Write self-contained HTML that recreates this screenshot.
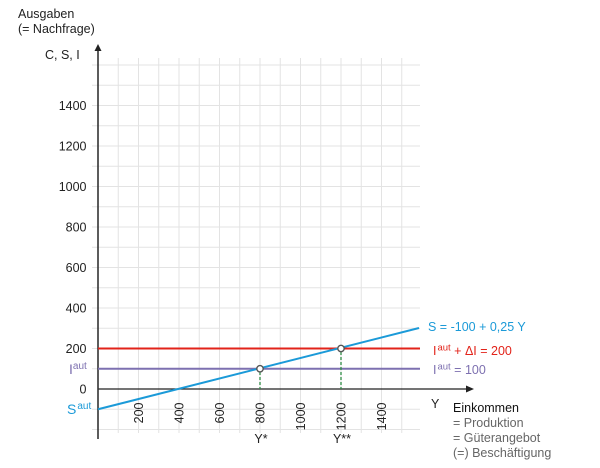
<!DOCTYPE html>
<html><head><meta charset="utf-8"><style>
html,body{margin:0;padding:0;background:#fff;}
svg{display:block;font-family:"Liberation Sans",Arial,sans-serif;}
</style></head><body>
<svg width="600" height="468" viewBox="0 0 600 468" xmlns="http://www.w3.org/2000/svg">
<g stroke="#e3e3e3" stroke-width="1">
<line x1="118.25" y1="58" x2="118.25" y2="433"/>
<line x1="138.5" y1="58" x2="138.5" y2="433"/>
<line x1="158.75" y1="58" x2="158.75" y2="433"/>
<line x1="179" y1="58" x2="179" y2="433"/>
<line x1="199.25" y1="58" x2="199.25" y2="433"/>
<line x1="219.5" y1="58" x2="219.5" y2="433"/>
<line x1="239.75" y1="58" x2="239.75" y2="433"/>
<line x1="260" y1="58" x2="260" y2="433"/>
<line x1="280.25" y1="58" x2="280.25" y2="433"/>
<line x1="300.5" y1="58" x2="300.5" y2="433"/>
<line x1="320.75" y1="58" x2="320.75" y2="433"/>
<line x1="341" y1="58" x2="341" y2="433"/>
<line x1="361.25" y1="58" x2="361.25" y2="433"/>
<line x1="381.5" y1="58" x2="381.5" y2="433"/>
<line x1="401.75" y1="58" x2="401.75" y2="433"/>
<line x1="92" y1="65" x2="420" y2="65"/>
<line x1="92" y1="85.25" x2="420" y2="85.25"/>
<line x1="92" y1="105.5" x2="420" y2="105.5"/>
<line x1="92" y1="125.75" x2="420" y2="125.75"/>
<line x1="92" y1="146" x2="420" y2="146"/>
<line x1="92" y1="166.25" x2="420" y2="166.25"/>
<line x1="92" y1="186.5" x2="420" y2="186.5"/>
<line x1="92" y1="206.75" x2="420" y2="206.75"/>
<line x1="92" y1="227" x2="420" y2="227"/>
<line x1="92" y1="247.25" x2="420" y2="247.25"/>
<line x1="92" y1="267.5" x2="420" y2="267.5"/>
<line x1="92" y1="287.75" x2="420" y2="287.75"/>
<line x1="92" y1="308" x2="420" y2="308"/>
<line x1="92" y1="328.25" x2="420" y2="328.25"/>
<line x1="92" y1="348.5" x2="420" y2="348.5"/>
<line x1="92" y1="368.75" x2="420" y2="368.75"/>
<line x1="92" y1="409.25" x2="420" y2="409.25"/>
<line x1="92" y1="429.5" x2="420" y2="429.5"/>
</g>
<!-- axes -->
<line x1="98" y1="389" x2="468" y2="389" stroke="#222" stroke-width="1.3"/>
<polygon points="474,389 466,385.5 466,392.5" fill="#222"/>
<line x1="98" y1="50" x2="98" y2="439" stroke="#333" stroke-width="1.6"/>
<polygon points="98,44 94.5,51 101.5,51" fill="#222"/>
<!-- lines -->
<line x1="98" y1="348.5" x2="420" y2="348.5" stroke="#e2231a" stroke-width="2"/>
<line x1="98" y1="368.75" x2="420" y2="368.75" stroke="#7d70b0" stroke-width="2"/>
<line x1="98" y1="409.25" x2="419" y2="328" stroke="#1b9ad8" stroke-width="2"/>
<g stroke="#2e8b45" stroke-width="1.3" stroke-dasharray="3,2">
<line x1="260" y1="372" x2="260" y2="389"/>
<line x1="341" y1="352" x2="341" y2="389"/>
</g>
<circle cx="260" cy="368.75" r="3.2" fill="#fff" stroke="#555" stroke-width="1.4"/>
<circle cx="341" cy="348.5" r="3.2" fill="#fff" stroke="#555" stroke-width="1.4"/>
<!-- texts -->
<g font-size="12.5" fill="#222">
<text x="18" y="18">Ausgaben</text>
<text x="18" y="33">(= Nachfrage)</text>
<text x="45" y="59">C, S, I</text>
</g>
<g font-size="12.5" fill="#222" text-anchor="end">
<text x="86.5" y="110">1400</text>
<text x="86.5" y="150.5">1200</text>
<text x="86.5" y="191">1000</text>
<text x="86.5" y="231.5">800</text>
<text x="86.5" y="272">600</text>
<text x="86.5" y="312.5">400</text>
<text x="86.5" y="353">200</text>
<text x="86.5" y="393.5">0</text>
</g>
<g font-size="12.5" fill="#222" text-anchor="end">
<text transform="translate(143,402.5) rotate(-90)">200</text>
<text transform="translate(183.5,402.5) rotate(-90)">400</text>
<text transform="translate(224,402.5) rotate(-90)">600</text>
<text transform="translate(264.5,402.5) rotate(-90)">800</text>
<text transform="translate(305,402.5) rotate(-90)">1000</text>
<text transform="translate(345.5,402.5) rotate(-90)">1200</text>
<text transform="translate(386,402.5) rotate(-90)">1400</text>
</g>
<g font-size="12.5" fill="#222" text-anchor="middle">
<text x="261" y="443">Y*</text>
<text x="342" y="443">Y**</text>
</g>
<text x="431" y="408" font-size="12.5" fill="#222">Y</text>
<text x="69" y="374" font-size="14" fill="#7d70b0">I<tspan font-size="10" dy="-5">aut</tspan></text>
<text x="67" y="414" font-size="14" fill="#1b9ad8">S<tspan font-size="10" dy="-5" dx="1">aut</tspan></text>
<text x="428" y="331" font-size="12.5" fill="#1b9ad8">S = -100 + 0,25 Y</text>
<text x="433" y="355" font-size="12.5" fill="#e2231a">I<tspan font-size="9.5" dy="-4.5" dx="1">aut</tspan><tspan dy="4.5"> + ΔI = 200</tspan></text>
<text x="433" y="374" font-size="12.5" fill="#7d70b0">I<tspan font-size="9.5" dy="-4.5" dx="1">aut</tspan><tspan dy="4.5"> = 100</tspan></text>
<text x="453" y="412" font-size="12.5" fill="#111">Einkommen</text>
<g font-size="12.5" fill="#666">
<text x="453" y="427">= Produktion</text>
<text x="453" y="442">= Güterangebot</text>
<text x="453" y="457">(=) Beschäftigung</text>
</g>
</svg>
</body></html>
